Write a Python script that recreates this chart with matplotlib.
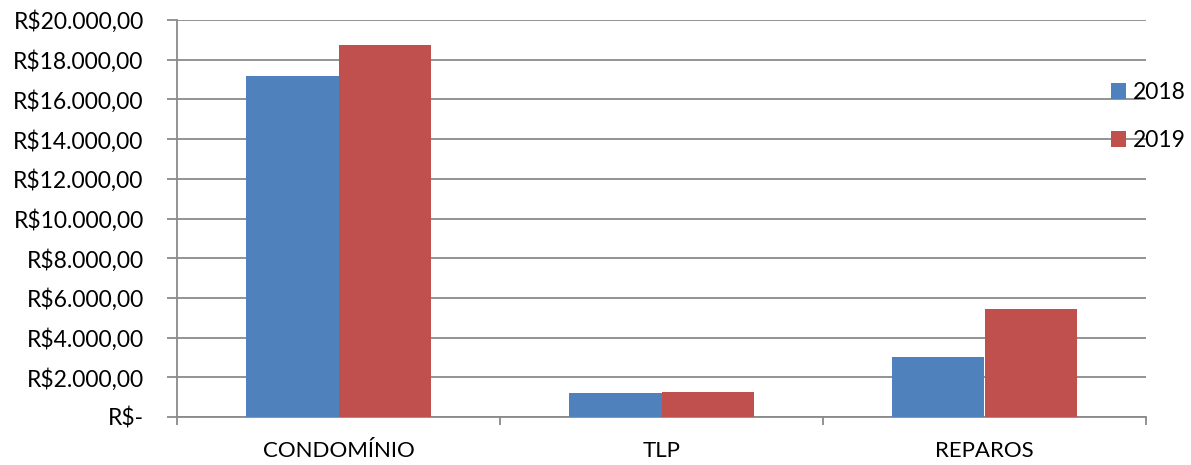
import matplotlib
matplotlib.use("Agg")
import matplotlib.pyplot as plt
import numpy as np
from matplotlib.ticker import FuncFormatter, MultipleLocator

categories = ["CONDOMÍNIO", "TLP", "REPAROS"]
series_names = ["2018", "2019"]
values_2018 = [17180, 1210, 3030]
values_2019 = [18730, 1260, 5430]
colors = ["#4F81BD", "#C0504D"]

plt.rcParams['font.family'] = ['Lato', 'DejaVu Sans']

fig = plt.figure(figsize=(11.91, 4.65), dpi=100)
ax = fig.add_axes([177/1191, 1-417/465, (1146-177)/1191, (417-20)/465])

x = np.arange(len(categories))
w = 0.285
ax.bar(x - w/2, values_2018, w, color=colors[0], label=series_names[0], zorder=3)
ax.bar(x + w/2, values_2019, w, color=colors[1], label=series_names[1], zorder=3)

ax.set_xlim(-0.5, len(categories) - 0.5)
ax.set_ylim(0, 20000)
ax.yaxis.set_major_locator(MultipleLocator(2000))

def brl(v, pos):
    if v == 0:
        return "R$-"
    s = f"{v:,.2f}"
    s = s.replace(",", "X").replace(".", ",").replace("X", ".")
    return "R$" + s

ax.yaxis.set_major_formatter(FuncFormatter(brl))
ax.grid(axis='y', color='#8a8a8a', linewidth=1.3, zorder=0)

ax.set_xticks(np.arange(-0.5, len(categories), 1.0))
ax.set_xticklabels([])
ax.set_xticks(x, minor=True)
ax.set_xticklabels(categories, minor=True)
ax.tick_params(axis='x', which='major', length=6, width=1.3, color='#8a8a8a')
ax.tick_params(axis='x', which='minor', length=0, pad=17, labelsize=16)
ax.tick_params(axis='y', length=7, width=1.3, color='#8a8a8a', pad=17, labelsize=16.5)

for s in ['top', 'right']:
    ax.spines[s].set_visible(False)
for s in ['left', 'bottom']:
    ax.spines[s].set_color('#8a8a8a')
    ax.spines[s].set_linewidth(1.3)

leg = fig.legend(loc='upper left', bbox_to_anchor=(1111/1191, 1-82/465),
                 frameon=False, fontsize=16.5, handlelength=0.65, handleheight=0.65,
                 handletextpad=0.3, labelspacing=1.18, borderpad=0, borderaxespad=0)

fig.savefig("out.png", dpi=100)
